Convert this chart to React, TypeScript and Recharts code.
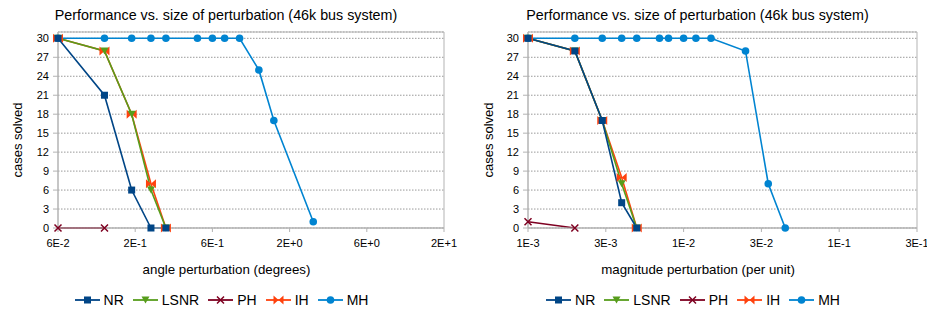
import { LineChart, Line, XAxis, YAxis, CartesianGrid, ReferenceArea } from 'recharts'

const FONT = '"Liberation Sans", Arial, sans-serif'

// angle perturbation panel (degrees)
const angleTicks = [0.06, 0.18974, 0.6, 1.8974, 6, 18.974]
const angleTickLabels = ['6E-2', '2E-1', '6E-1', '2E+0', '6E+0', '2E+1']
const angleNRx = [0.06, 0.12, 0.18, 0.24, 0.3]
const angleNRy = [30, 21, 6, 0, 0]
const angleLSNRx = [0.06, 0.12, 0.18, 0.24, 0.3]
const angleLSNRy = [30, 28, 18, 6, 0]
const anglePHx = [0.06, 0.12]
const anglePHy = [0, 0]
const angleIHx = [0.06, 0.12, 0.18, 0.24, 0.3]
const angleIHy = [30, 28, 18, 7, 0]
const angleMHx = [0.06, 0.12, 0.18, 0.24, 0.3, 0.48, 0.6, 0.72, 0.9, 1.2, 1.5, 2.7]
const angleMHy = [30, 30, 30, 30, 30, 30, 30, 30, 30, 25, 17, 1]

// magnitude perturbation panel (per unit)
const magTicks = [0.001, 0.0031623, 0.01, 0.031623, 0.1, 0.31623]
const magTickLabels = ['1E-3', '3E-3', '1E-2', '3E-2', '1E-1', '3E-1']
const magNRx = [0.001, 0.002, 0.003, 0.004, 0.005]
const magNRy = [30, 28, 17, 4, 0]
const magLSNRx = [0.001, 0.002, 0.003, 0.004, 0.005]
const magLSNRy = [30, 28, 17, 7, 0]
const magPHx = [0.001, 0.002]
const magPHy = [1, 0]
const magIHx = [0.001, 0.002, 0.003, 0.004, 0.005]
const magIHy = [30, 28, 17, 8, 0]
const magMHx = [0.001, 0.002, 0.003, 0.004, 0.005, 0.007, 0.008, 0.01, 0.012, 0.015, 0.025, 0.035, 0.045]
const magMHy = [30, 30, 30, 30, 30, 30, 30, 30, 30, 30, 28, 7, 0]

const yTicks = [0, 3, 6, 9, 12, 15, 18, 21, 24, 27, 30]
const seriesNames = ['NR', 'LSNR', 'PH', 'IH', 'MH']
const colors: Record<string, string> = {
  NR: '#004586',
  LSNR: '#579d1c',
  PH: '#7e0021',
  IH: '#ff420e',
  MH: '#0084d1',
}

const pts = (xs: number[], ys: number[]) => xs.map((x, i) => ({ x, y: ys[i] }))

function Marker({ name, cx, cy }: { name: string; cx: number; cy: number }) {
  const c = colors[name]
  if (name === 'NR') return <rect x={cx - 3.5} y={cy - 3.5} width={7} height={7} fill={c} />
  if (name === 'LSNR')
    return <polygon points={`${cx - 4},${cy - 3.5} ${cx + 4},${cy - 3.5} ${cx},${cy + 3.5}`} fill={c} />
  if (name === 'PH')
    return (
      <path
        d={`M${cx - 3.5},${cy - 3.5}L${cx + 3.5},${cy + 3.5}M${cx - 3.5},${cy + 3.5}L${cx + 3.5},${cy - 3.5}`}
        stroke={c}
        strokeWidth={1.5}
      />
    )
  if (name === 'IH')
    return (
      <path
        d={`M${cx - 5},${cy - 4.5}L${cx},${cy}L${cx - 5},${cy + 4.5}Z M${cx + 5},${cy - 4.5}L${cx},${cy}L${cx + 5},${cy + 4.5}Z`}
        fill={c}
      />
    )
  return <circle cx={cx} cy={cy} r={3.8} fill={c} />
}

const dotFor = (name: string) => (p: any) => (
  <g key={`${name}-${p.index}`}>
    <Marker name={name} cx={p.cx} cy={p.cy} />
  </g>
)

interface PanelProps {
  left: number
  width: number
  yAxisWidth: number
  marginRight: number
  ticks: number[]
  tickLabels: string[]
  series: Record<string, { x: number; y: number }[]>
}

function Panel({ left, width, yAxisWidth, marginRight, ticks, tickLabels, series }: PanelProps) {
  const domain = [ticks[0], ticks[ticks.length - 1]]
  // draw order: bottom to top
  const order = ['MH', 'PH', 'IH', 'LSNR', 'NR']
  return (
    <div style={{ position: 'absolute', left, top: 0 }}>
      <LineChart width={width} height={310} margin={{ top: 32, right: marginRight, bottom: 52, left: 0 }}>
        <CartesianGrid vertical={false} stroke="#999" strokeDasharray="1.5 1.5" />
        <ReferenceArea x1={domain[0]} x2={domain[1]} y1={0} y2={31} fill="none" stroke="#b3b3b3" />
        <XAxis
          dataKey="x"
          type="number"
          scale="log"
          domain={domain}
          ticks={ticks}
          interval={0}
          height={30}
          stroke="#b3b3b3"
          tickSize={4}
          tickMargin={7}
          tick={{ fill: '#000', fontSize: 11, fontFamily: FONT }}
          tickFormatter={(_v: number, i: number) => tickLabels[i]}
        />
        <YAxis
          type="number"
          domain={[0, 31]}
          ticks={yTicks}
          interval={0}
          width={yAxisWidth}
          stroke="#b3b3b3"
          tickSize={5}
          tickMargin={4}
          tick={{ fill: '#000', fontSize: 11, fontFamily: FONT }}
        />
        {order.map(name => (
          <Line
            key={name}
            data={series[name]}
            dataKey="y"
            type="linear"
            stroke={colors[name]}
            strokeWidth={1.6}
            dot={dotFor(name)}
            activeDot={false}
            isAnimationActive={false}
          />
        ))}
      </LineChart>
    </div>
  )
}

function Legend({ center }: { center: number }) {
  return (
    <div
      style={{
        position: 'absolute',
        left: center - 200,
        width: 400,
        top: 291,
        height: 18,
        display: 'flex',
        justifyContent: 'center',
        alignItems: 'center',
        fontFamily: FONT,
        fontSize: 14,
        color: '#000',
      }}
    >
      {seriesNames.map(name => (
        <div key={name} style={{ display: 'flex', alignItems: 'center', marginRight: 9 }}>
          <svg width={25} height={12} style={{ marginRight: 4 }}>
            <line x1={0} y1={6} x2={25} y2={6} stroke={colors[name]} strokeWidth={1.8} />
            <Marker name={name} cx={12.5} cy={6} />
          </svg>
          <span>{name}</span>
        </div>
      ))}
    </div>
  )
}

function Text({ x, y, size, children, rotate }: { x: number; y: number; size: number; children: string; rotate?: boolean }) {
  return (
    <div
      style={{
        position: 'absolute',
        left: x - 200,
        top: y - 10,
        width: 400,
        height: 20,
        lineHeight: '20px',
        textAlign: 'center',
        fontFamily: FONT,
        fontSize: size,
        color: '#000',
        whiteSpace: 'nowrap',
        transform: rotate ? 'rotate(-90deg)' : undefined,
      }}
    >
      {children}
    </div>
  )
}

export default function App() {
  const angleSeries = {
    NR: pts(angleNRx, angleNRy),
    LSNR: pts(angleLSNRx, angleLSNRy),
    PH: pts(anglePHx, anglePHy),
    IH: pts(angleIHx, angleIHy),
    MH: pts(angleMHx, angleMHy),
  }
  const magSeries = {
    NR: pts(magNRx, magNRy),
    LSNR: pts(magLSNRx, magLSNRy),
    PH: pts(magPHx, magPHy),
    IH: pts(magIHx, magIHy),
    MH: pts(magMHx, magMHy),
  }
  return (
    <div style={{ position: 'absolute', left: 0, top: 0, width: 927, height: 310, background: '#fff', overflow: 'hidden' }}>
      <Panel
        left={0}
        width={463}
        yAxisWidth={58}
        marginRight={19}
        ticks={angleTicks}
        tickLabels={angleTickLabels}
        series={angleSeries}
      />
      <Panel
        left={463}
        width={464}
        yAxisWidth={65}
        marginRight={10}
        ticks={magTicks}
        tickLabels={magTickLabels}
        series={magSeries}
      />
      <Text x={226} y={15} size={14.3}>Performance vs. size of perturbation (46k bus system)</Text>
      <Text x={697.5} y={15} size={14.3}>Performance vs. size of perturbation (46k bus system)</Text>
      <Text x={18} y={140} size={13} rotate>cases solved</Text>
      <Text x={489} y={140} size={13} rotate>cases solved</Text>
      <Text x={226.5} y={270} size={13.3}>angle perturbation (degrees)</Text>
      <Text x={698} y={270} size={13.3}>magnitude perturbation (per unit)</Text>
      <Legend center={226} />
      <Legend center={697.5} />
    </div>
  )
}
